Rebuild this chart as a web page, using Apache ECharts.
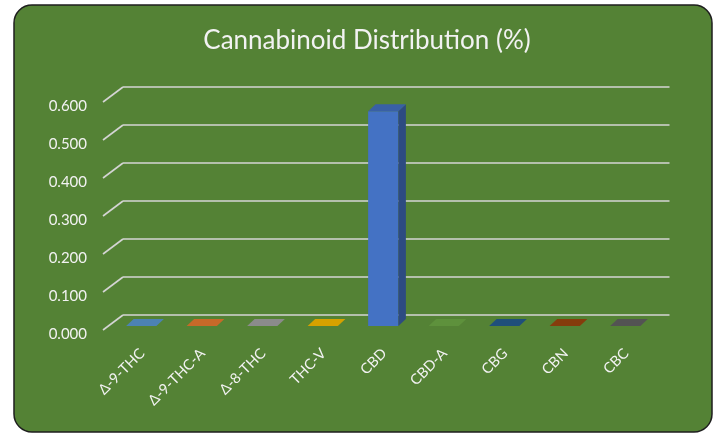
<!DOCTYPE html>
<html>
<head>
<meta charset="utf-8">
<script src="https://cdn.jsdelivr.net/npm/echarts@6/dist/echarts.min.js"></script>
<style>
html,body{margin:0;padding:0;background:#ffffff;}
#chart{width:716px;height:434px;}
</style>
</head>
<body>
<div id="chart"></div>
<script>
var categories = ['Δ-9-THC', 'Δ-9-THC-A', 'Δ-8-THC', 'THC-V', 'CBD', 'CBD-A', 'CBG', 'CBN', 'CBC'];
var values = [0, 0, 0, 0, 0.565, 0, 0, 0, 0];
var barColors = ['#5B9BD5', '#ED7D31', '#A5A5A5', '#FFC000', '#4472C4', '#70AD47', '#255E91', '#9E480E', '#636363'];
var yTicks = [0, 0.1, 0.2, 0.3, 0.4, 0.5, 0.6];
var titleText = 'Cannabinoid Distribution (%)';

var FONT = 'Lato, "Noto Sans", sans-serif';
var TXT = '#F2F2F2';
var GRIDC = '#D4D4D4';

function shade(hex, f) {
  var n = parseInt(hex.slice(1), 16);
  var r = Math.round(((n >> 16) & 255) * f);
  var g = Math.round(((n >> 8) & 255) * f);
  var b = Math.round((n & 255) * f);
  return 'rgb(' + r + ',' + g + ',' + b + ')';
}

var DX = 7.5, DY = 7;

var chart = echarts.init(document.getElementById('chart'), null, {renderer: 'canvas'});
chart.setOption({
  backgroundColor: '#ffffff',
  animation: false,
  graphic: [{
    type: 'rect', z: -10, silent: true,
    shape: {x: 14, y: 5, width: 698, height: 427, r: 18},
    style: {fill: '#548235', stroke: '#1E1E1E', lineWidth: 1.5}
  }],
  title: {
    text: titleText, left: 362, textAlign: 'center', top: 23,
    textStyle: {color: TXT, fontFamily: FONT, fontSize: 26, fontWeight: 'normal'}
  },
  grid: {left: 111, right: 60.5, top: 98, bottom: 108},
  xAxis: {
    type: 'category', data: categories,
    axisLine: {show: false}, axisTick: {show: false}, splitLine: {show: false},
    axisLabel: {show: false}
  },
  yAxis: {
    type: 'value', min: 0, max: 0.6, interval: 0.1,
    axisLine: {show: false}, axisTick: {show: false}, splitLine: {show: false},
    axisLabel: {margin: 24, verticalAlign: 'top', lineHeight: 16, color: TXT, fontFamily: FONT, fontSize: 15,
      formatter: function (v) { return v.toFixed(3); }}
  },
  series: [{
    type: 'custom', z: 1, clip: false,
    data: yTicks.map(function (t) { return [0, t]; }),
    encode: {x: 0, y: 1},
    renderItem: function (params, api) {
      var cs = params.coordSys;
      var yv = api.coord([0, api.value(1)])[1];
      return {type: 'group', children: [
        {type: 'line', shape: {x1: cs.x + 12, y1: yv - 11, x2: cs.x + cs.width + 14, y2: yv - 11},
          style: {stroke: GRIDC, lineWidth: 1.6}},
        {type: 'line', shape: {x1: cs.x - 8, y1: yv + 4, x2: cs.x + 12, y2: yv - 11},
          style: {stroke: GRIDC, lineWidth: 1.6}}
      ]};
    }
  }, {
    type: 'custom', z: 2, clip: false,
    data: values.map(function (v, i) { return [i, v]; }),
    encode: {x: 0, y: 1},
    renderItem: function (params, api) {
      var i = api.value(0);
      var top = api.coord([i, api.value(1)]);
      var base = api.coord([i, 0]);
      var bw = api.size([1, 0])[0] * 0.5;
      var x0 = top[0] - bw / 2, x1 = top[0] + bw / 2;
      var yt = top[1], yb = base[1];
      var c = barColors[i];
      var kids = [];
      if (yb - yt > 0.5) {
        kids.push({type: 'rect', shape: {x: x0, y: yt, width: bw, height: yb - yt}, style: {fill: c}});
        kids.push({type: 'polygon', shape: {points: [[x1, yt], [x1 + DX, yt - DY], [x1 + DX, yb - DY], [x1, yb]]},
          style: {fill: shade(c, 0.66)}});
      }
      kids.push({type: 'polygon', shape: {points: [[x0, yt], [x0 + DX, yt - DY], [x1 + DX, yt - DY], [x1, yt]]},
        style: {fill: shade(c, 0.84)}});
      kids.push({type: 'text', x: base[0] + 1, y: yb + 25, rotation: Math.PI / 4,
        style: {text: categories[i], align: 'right', verticalAlign: 'middle', fill: TXT,
          fontFamily: FONT, fontSize: 14.5}});
      return {type: 'group', children: kids};
    }
  }]
});
</script>
</body>
</html>
